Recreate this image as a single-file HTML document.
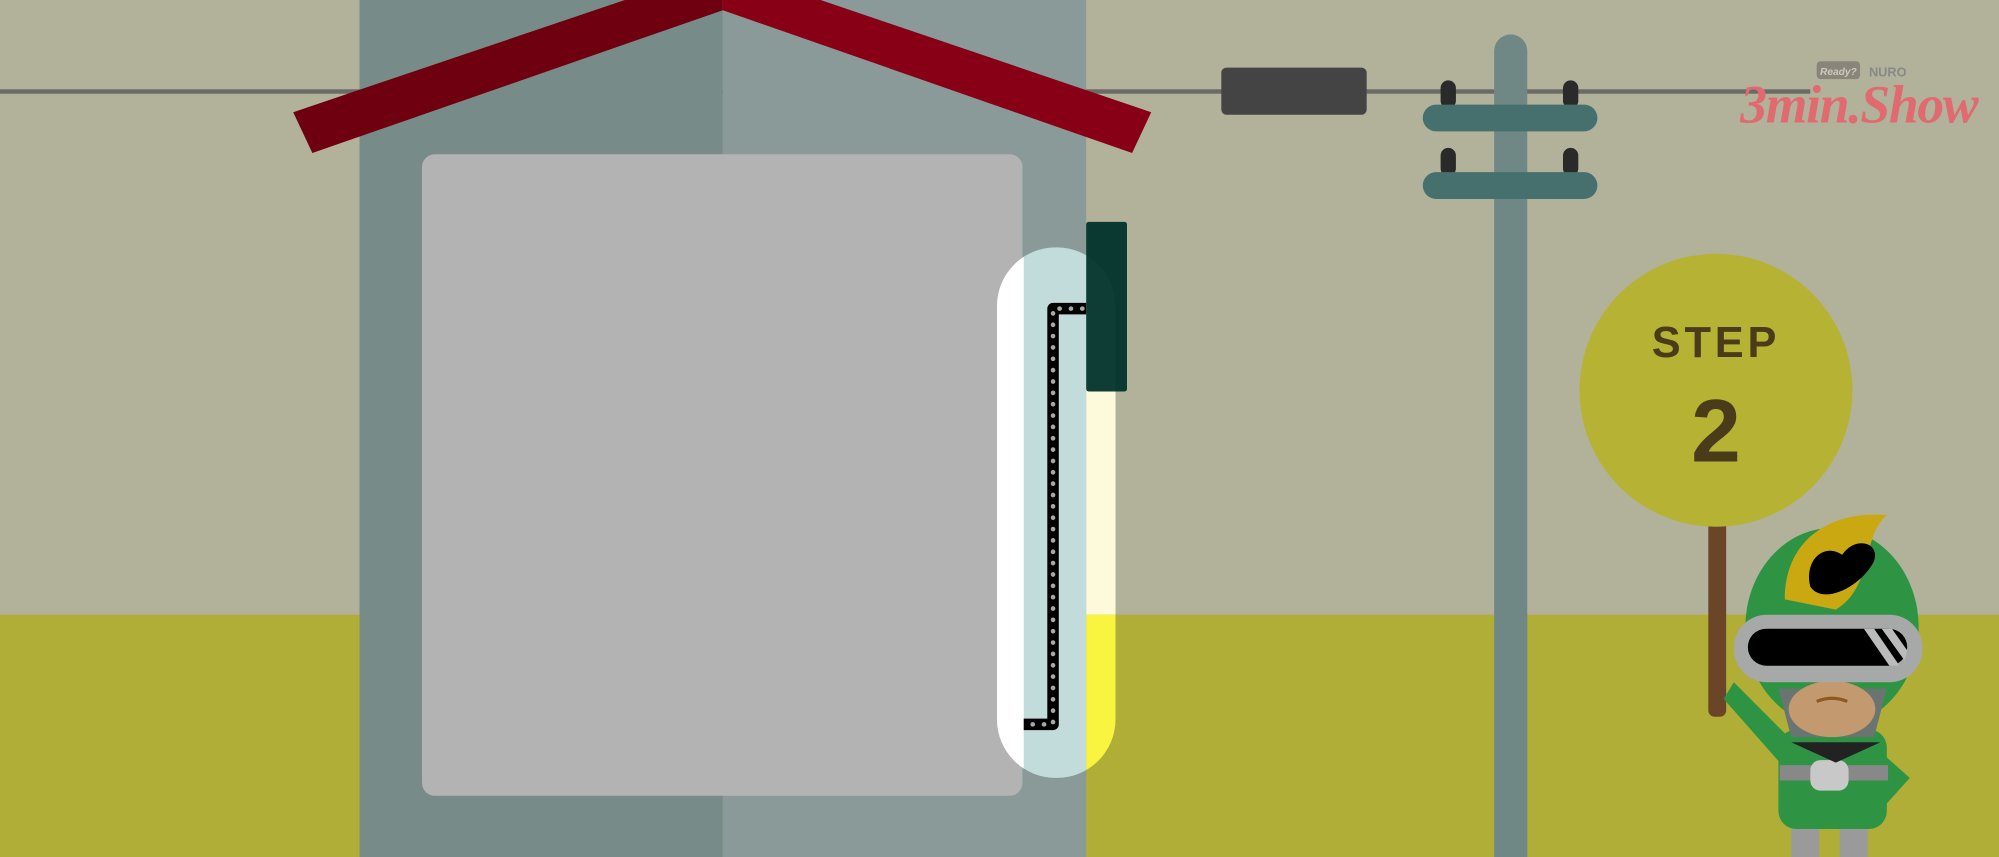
<!DOCTYPE html>
<html><head><meta charset="utf-8"><style>
html,body{margin:0;padding:0;background:#b2b29a;overflow:hidden}
svg{display:block}
</style></head><body>
<svg width="1999" height="857" viewBox="0 0 1568 672" preserveAspectRatio="none" xmlns="http://www.w3.org/2000/svg">
<defs>
<clipPath id="pill"><rect x="782" y="194" width="93" height="416" rx="46"/></clipPath>
</defs>
<rect x="0" y="0" width="1568" height="672" fill="#b2b29a"/>
<rect x="0" y="482" width="1568" height="190" fill="#b0ae36"/>
<!-- wire -->
<rect x="0" y="70" width="1420" height="3.5" fill="#6b6b66"/>
<!-- house -->
<rect x="282" y="0" width="285" height="672" fill="#778c88"/>
<rect x="567" y="0" width="285" height="672" fill="#8a9a98"/>
<polygon points="230,88 567,-26 567,8 245,120" fill="#6e0010"/>
<polygon points="567,-26 903,88 888,120 567,8" fill="#880016"/>
<rect x="331" y="121" width="471" height="503" rx="10" fill="#b3b3b3"/>
<!-- pill -->
<g clip-path="url(#pill)">
<rect x="780" y="190" width="24" height="430" fill="#ffffff"/>
<rect x="803" y="190" width="49" height="430" fill="#c2dbdb"/>
<rect x="852" y="190" width="25" height="292" fill="#fdfadc"/>
<rect x="852" y="482" width="25" height="140" fill="#f8f440"/>
</g>
<rect x="852" y="174" width="32" height="133" rx="2" fill="#00332a" opacity="0.95"/>
<path d="M852,242 L826,242 L826,568 L803,568" fill="none" stroke="#000" stroke-width="9" stroke-linejoin="round"/>
<path d="M849,242 L826,242 L826,568 L806,568" fill="none" stroke="#a8a8a8" stroke-width="3.6" stroke-linecap="round" stroke-dasharray="0.1 8.8"/>
<!-- wire device -->
<rect x="958" y="53" width="114" height="37" rx="4" fill="#444"/>
<!-- pole -->
<rect x="1172" y="27" width="26" height="660" rx="13" fill="#6f8886"/>
<rect x="1130" y="63" width="12" height="22" rx="6" fill="#2a2a2a"/>
<rect x="1226" y="63" width="12" height="22" rx="6" fill="#2a2a2a"/>
<rect x="1130" y="116" width="12" height="22" rx="6" fill="#2a2a2a"/>
<rect x="1226" y="116" width="12" height="22" rx="6" fill="#2a2a2a"/>
<rect x="1116" y="82" width="137" height="21" rx="10.5" fill="#46706e"/>
<rect x="1116" y="135" width="137" height="21" rx="10.5" fill="#46706e"/>
<!-- sign -->
<rect x="1340" y="400" width="14" height="162" rx="5" fill="#6a4528"/>
<circle cx="1346" cy="306" r="107" fill="#b5b234"/>
<text x="1346" y="280" font-family="Liberation Sans, sans-serif" font-weight="bold" font-size="34" letter-spacing="3" fill="#4a3c1a" text-anchor="middle">STEP</text>
<text x="1346" y="362" font-family="Liberation Sans, sans-serif" font-weight="bold" font-size="70" fill="#4a3c1a" text-anchor="middle">2</text>
<!-- character -->
<rect x="1405" y="640" width="22" height="32" fill="#9a9a9a"/>
<rect x="1443" y="640" width="22" height="32" fill="#9a9a9a"/>
<path d="M1415,590 L1360,535 L1352,548 L1405,608 Z" fill="#2e9444"/>
<rect x="1395" y="572" width="85" height="78" rx="14" fill="#2e9444"/>
<path d="M1470,585 L1498,610 L1480,630 L1465,612 Z" fill="#2e9444"/>
<rect x="1396" y="600" width="85" height="12" fill="#888"/>
<rect x="1420" y="596" width="30" height="24" rx="8" fill="#c8c8c8"/>
<path d="M1405,582 L1475,582 L1440,598 Z" fill="#222"/>
<ellipse cx="1437" cy="492" rx="68" ry="78" fill="#2e9444"/>
<path d="M1400,470 C1400,420 1440,400 1480,404 C1460,420 1470,460 1440,478 Z" fill="#c9a812"/>
<path d="M1420,460 C1415,440 1430,425 1445,435 C1455,420 1475,425 1470,440 C1460,460 1430,475 1420,460 Z" fill="#000"/>
<path d="M1395,540 L1480,540 L1470,578 L1405,578 Z" fill="#6a7470"/>
<ellipse cx="1437" cy="556" rx="34" ry="22" fill="#c39a70"/>
<path d="M1425,550 Q1437,545 1449,550" stroke="#8a5a20" stroke-width="2.5" fill="none"/>
<rect x="1360" y="482" width="148" height="53" rx="26" fill="#a7a8a8"/>
<rect x="1371" y="493" width="125" height="29" rx="14.5" fill="#000"/>
<path d="M1462,493 L1470,493 L1490,522 L1482,522 Z M1476,493 L1484,493 L1496,510 L1494,518 Z" fill="#bbb"/>
<!-- logo -->
<rect x="1425" y="48" width="34" height="14" rx="3" fill="#8a857a"/>
<text x="1442" y="59" font-family="Liberation Sans, sans-serif" font-size="8" font-weight="bold" font-style="italic" fill="#cfcabd" text-anchor="middle">Ready?</text>
<text x="1466" y="60" font-family="Liberation Sans, sans-serif" font-size="10" font-weight="bold" fill="#888">NURO</text>
<text x="1458" y="96" font-family="Liberation Serif, serif" font-size="42" font-weight="bold" font-style="italic" fill="#e06a70" text-anchor="middle" letter-spacing="-1">3min.Show</text>
</svg>
</body></html>
